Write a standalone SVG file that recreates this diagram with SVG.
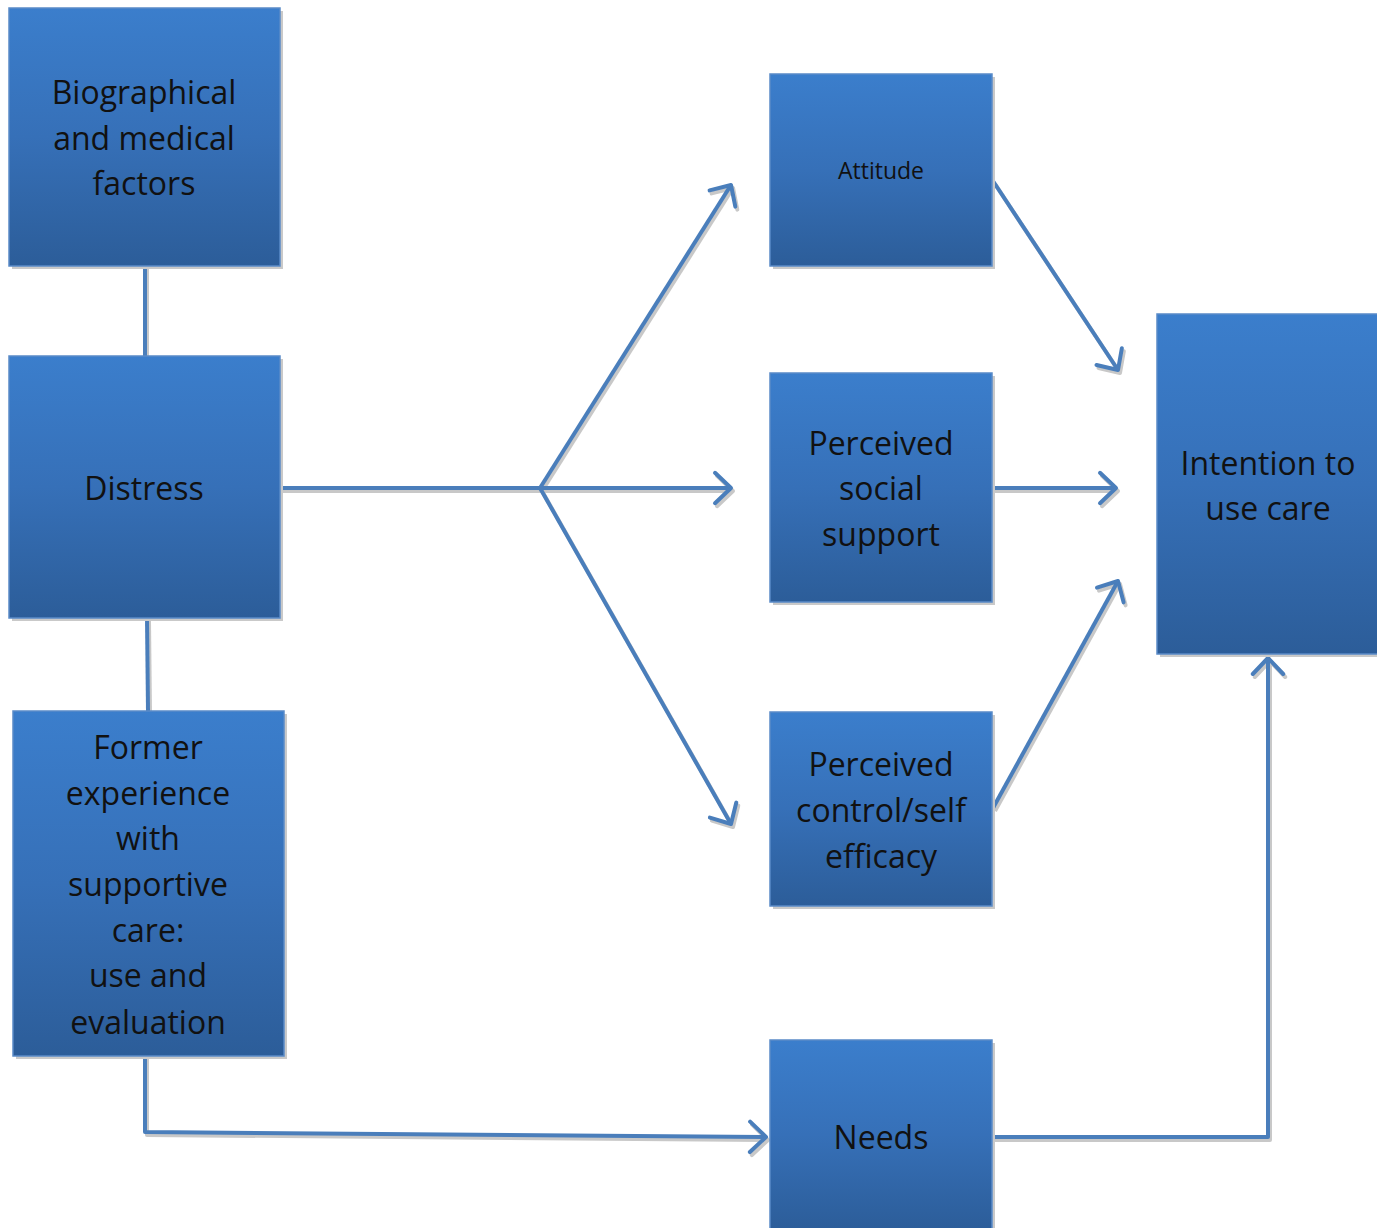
<svg xmlns="http://www.w3.org/2000/svg" width="1377" height="1228" viewBox="0 0 1377 1228">
<defs>
<linearGradient id="g" x1="0" y1="0" x2="0" y2="1">
<stop offset="0" stop-color="#3B7ECC"/>
<stop offset="0.5" stop-color="#3670B8"/>
<stop offset="1" stop-color="#2C5D99"/>
</linearGradient>
<marker id="ah" viewBox="-6 -6 12 12" markerWidth="12" markerHeight="12" refX="0" refY="0" orient="auto" markerUnits="strokeWidth" overflow="visible">
<path d="M-4,-3.8 L0,0 L-4,3.8" fill="none" stroke="#4A7EBB" stroke-width="1" stroke-linecap="round" stroke-linejoin="round"/>
</marker>
<marker id="ahs" viewBox="-6 -6 12 12" markerWidth="12" markerHeight="12" refX="0" refY="0" orient="auto" markerUnits="strokeWidth" overflow="visible">
<path d="M-4,-3.8 L0,0 L-4,3.8" fill="none" stroke="#C8C8C8" stroke-width="1" stroke-linecap="round" stroke-linejoin="round"/>
</marker>
</defs>
<style>
.sh{fill:#C9C9C9}
.box{fill:url(#g);stroke:#5A8BC8;stroke-width:1.5}
.t{font-family:"Open Sans","Noto Sans",sans-serif;font-size:32px;fill:#111;text-anchor:middle}
.ts{font-family:"Open Sans","Noto Sans",sans-serif;font-size:23px;fill:#111;text-anchor:middle}
.c{fill:none;stroke:#4A7EBB;stroke-width:4;stroke-linejoin:round}
.cs{fill:none;stroke:#C8C8C8;stroke-width:4;stroke-linejoin:round}
</style>
<g id="connectors">
<g transform="translate(2,3)">
<path class="cs" d="M145,266 L145,356"/>
<path class="cs" d="M147,618 L148,711"/>
<path class="cs" d="M280,488 L540,488"/>
<path class="cs" d="M540,488 L731,185" marker-end="url(#ahs)"/>
<path class="cs" d="M540,488 L731,488" marker-end="url(#ahs)"/>
<path class="cs" d="M540,488 L731,824" marker-end="url(#ahs)"/>
<path class="cs" d="M993,181 L1118,370" marker-end="url(#ahs)"/>
<path class="cs" d="M993,488 L1116,488" marker-end="url(#ahs)"/>
<path class="cs" d="M993,808 L1118,581" marker-end="url(#ahs)"/>
<path class="cs" d="M145,1056 L145,1132 L766,1137" marker-end="url(#ahs)"/>
<path class="cs" d="M993,1137 L1268,1137 L1268,658" marker-end="url(#ahs)"/>
</g>
<path class="c" d="M145,266 L145,356"/>
<path class="c" d="M147,618 L148,711"/>
<path class="c" d="M280,488 L540,488"/>
<path class="c" d="M540,488 L731,185" marker-end="url(#ah)"/>
<path class="c" d="M540,488 L731,488" marker-end="url(#ah)"/>
<path class="c" d="M540,488 L731,824" marker-end="url(#ah)"/>
<path class="c" d="M993,181 L1118,370" marker-end="url(#ah)"/>
<path class="c" d="M993,488 L1116,488" marker-end="url(#ah)"/>
<path class="c" d="M993,808 L1118,581" marker-end="url(#ah)"/>
<path class="c" d="M145,1056 L145,1132 L766,1137" marker-end="url(#ah)"/>
<path class="c" d="M993,1137 L1268,1137 L1268,658" marker-end="url(#ah)"/>
</g>
<g id="bio">
<rect class="sh" x="12" y="11" width="271" height="258"/>
<rect class="box" x="9" y="8" width="271" height="258"/>
<text class="t" x="144" y="104">Biographical</text>
<text class="t" x="144" y="150">and medical</text>
<text class="t" x="144" y="195">factors</text>
</g>
<g id="distress">
<rect class="sh" x="12" y="359" width="271" height="262"/>
<rect class="box" x="9" y="356" width="271" height="262"/>
<text class="t" x="144" y="500">Distress</text>
</g>
<g id="former">
<rect class="sh" x="16" y="714" width="271" height="345"/>
<rect class="box" x="13" y="711" width="271" height="345"/>
<text class="t" x="148" y="759">Former</text>
<text class="t" x="148" y="805">experience</text>
<text class="t" x="148" y="850">with</text>
<text class="t" x="148" y="896">supportive</text>
<text class="t" x="148" y="942">care:</text>
<text class="t" x="148" y="987">use and</text>
<text class="t" x="148" y="1034">evaluation</text>
</g>
<g id="attitude">
<rect class="sh" x="773" y="77" width="222" height="192"/>
<rect class="box" x="770" y="74" width="222" height="192"/>
<text class="ts" x="881" y="179">Attitude</text>
</g>
<g id="social">
<rect class="sh" x="773" y="376" width="222" height="229"/>
<rect class="box" x="770" y="373" width="222" height="229"/>
<text class="t" x="881" y="455">Perceived</text>
<text class="t" x="881" y="500">social</text>
<text class="t" x="881" y="546">support</text>
</g>
<g id="control">
<rect class="sh" x="773" y="715" width="222" height="194"/>
<rect class="box" x="770" y="712" width="222" height="194"/>
<text class="t" x="881" y="776">Perceived</text>
<text class="t" x="881" y="822">control/self</text>
<text class="t" x="881" y="868">efficacy</text>
</g>
<g id="needs">
<rect class="sh" x="773" y="1043" width="222" height="190"/>
<rect class="box" x="770" y="1040" width="222" height="190"/>
<text class="t" x="881" y="1149">Needs</text>
</g>
<g id="intention">
<rect class="sh" x="1160" y="317" width="220" height="340"/>
<rect class="box" x="1157" y="314" width="221" height="340"/>
<text class="t" x="1268" y="475">Intention to</text>
<text class="t" x="1268" y="520">use care</text>
</g>
</svg>
